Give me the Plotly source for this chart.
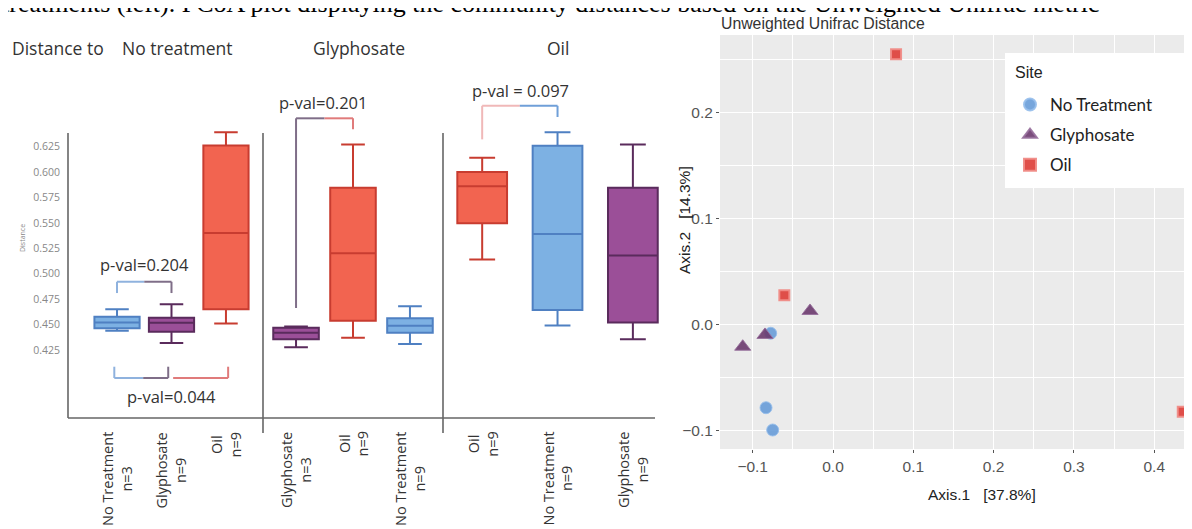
import plotly.graph_objects as go

OFF = 8            # page offset of the plot inside the browser window
W, H = 1192, 529
def px(x):
    return (x - OFF) / W
def py(y):
    return 1 - (y - OFF) / H

# ---------------- data ----------------
caption = "treatments (left). PCoA plot displaying the community distances based on the Unweighted Unifrac metric"
header_groups = ["No treatment", "Glyphosate", "Oil"]

g1_cats = ["No Treatment", "Glyphosate", "Oil"]
g1_n = [3, 9, 9]
g1_lower = [0.444, 0.432, 0.451]
g1_q1 = [0.4463, 0.443, 0.465]
g1_median = [0.452, 0.4518, 0.540]
g1_q3 = [0.4577, 0.4567, 0.626]
g1_upper = [0.465, 0.470, 0.639]

g2_cats = ["Glyphosate", "Oil", "No Treatment"]
g2_n = [3, 9, 9]
g2_lower = [0.4277, 0.437, 0.431]
g2_q1 = [0.4355, 0.4538, 0.442]
g2_median = [0.442, 0.520, 0.4489]
g2_q3 = [0.447, 0.5845, 0.4561]
g2_upper = [0.448, 0.627, 0.468]

g3_cats = ["Oil", "No Treatment", "Glyphosate"]
g3_n = [9, 9, 9]
g3_lower = [0.514, 0.449, 0.4355]
g3_q1 = [0.5495, 0.4643, 0.452]
g3_median = [0.586, 0.539, 0.518]
g3_q3 = [0.600, 0.6258, 0.5845]
g3_upper = [0.614, 0.639, 0.627]

ytick_vals = [0.425, 0.450, 0.475, 0.500, 0.525, 0.550, 0.575, 0.600, 0.625]

pval_labels = ["p-val=0.204", "p-val=0.044", "p-val=0.201", "p-val = 0.097"]

sites = ["No Treatment", "Glyphosate", "Oil"]
nt_ax1 = [-0.0776, -0.0834, -0.0751]
nt_ax2 = [-0.0082, -0.0784, -0.0994]
gly_ax1 = [-0.0286, -0.0847, -0.1124]
gly_ax2 = [0.0128, -0.0098, -0.0209]
oil_ax1 = [0.0785, -0.0606, 0.4355]
oil_ax2 = [0.2547, 0.0276, -0.0821]

# ---------------- styles ----------------
fill = {"No Treatment": "#7db1e3", "Glyphosate": "#9b4f98", "Oil": "#f26450"}
edge = {"No Treatment": "#4f80c2", "Glyphosate": "#5a2b5c", "Oil": "#c83c30"}
LFONT = "Open Sans"
RFONT = "Liberation Sans"

fig = go.Figure()

groups = [
    ("x", g1_cats, g1_n, g1_lower, g1_q1, g1_median, g1_q3, g1_upper, 0.83),
    ("x2", g2_cats, g2_n, g2_lower, g2_q1, g2_median, g2_q3, g2_upper, 0.80),
    ("x3", g3_cats, g3_n, g3_lower, g3_q1, g3_median, g3_q3, g3_upper, 0.66),
]

annotations = []
shapes = []

for ax, cats, ns, lo, q1, med, q3, up, bw in groups:
    for j, c in enumerate(cats):
        fig.add_trace(go.Box(
            x=[c], lowerfence=[lo[j]], q1=[q1[j]], median=[med[j]],
            q3=[q3[j]], upperfence=[up[j]],
            xaxis=ax, yaxis="y", width=bw, whiskerwidth=0.52,
            fillcolor=fill[c], line=dict(color=edge[c], width=2),
            boxpoints=False, showlegend=False, hoverinfo="skip",
        ))
        annotations.append(dict(
            text=f"{c}<br>n={ns[j]}", xref=ax, x=j, yref="paper", y=py(430),
            xanchor="center", yanchor="top", textangle=-90, align="center",
            showarrow=False, font=dict(family=LFONT, size=14.5, color="#333"),
        ))

# headers
annotations.append(dict(text="Distance to", xref="paper", x=px(10), yref="paper", y=py(48),
                        xanchor="left", yanchor="middle", showarrow=False,
                        font=dict(family=LFONT, size=17.5, color="#333")))
for ax, name, dx in zip(["x", "x2", "x3"], header_groups, [0.1, 0.1, 0.0]):
    annotations.append(dict(text=name, xref=ax, x=1 + dx, yref="paper", y=py(48),
                            xanchor="center", yanchor="middle", showarrow=False,
                            font=dict(family=LFONT, size=17.5, color="#333")))

# y axis title of box panel
annotations.append(dict(text="Distance", xref="paper", x=px(23), yref="paper", y=py(238),
                        xanchor="center", yanchor="middle", textangle=-90, showarrow=False,
                        font=dict(family=LFONT, size=7, color="#888")))

# structural lines of the box panel
LC = "#666"
shapes.append(dict(type="line", xref="x domain", x0=0, x1=0, yref="paper", y0=py(133), y1=py(418),
                   line=dict(color=LC, width=1.6)))
shapes.append(dict(type="line", xref="paper", x0=px(68), x1=px(655), yref="paper", y0=py(418), y1=py(418),
                   line=dict(color=LC, width=1.6)))
for ax in ["x2 domain", "x3 domain"]:
    shapes.append(dict(type="line", xref=ax, x0=0, x1=0, yref="paper", y0=py(133), y1=py(433),
                       line=dict(color=LC, width=1.6)))

def seg(xref, x0, y0, x1, y1, color):
    shapes.append(dict(type="line", xref=xref, yref="y", x0=x0, y0=y0, x1=x1, y1=y1,
                       line=dict(color=color, width=2)))

BL, PU, RD, PK = "#8fb2de", "#7f6e88", "#e07b7b", "#f0b8b8"
# group 1 top bracket
seg("x", 0, 0.481, 0, 0.4921, BL); seg("x", 0, 0.4921, 0.5, 0.4921, BL)
seg("x", 0.5, 0.4921, 1.0, 0.4921, PU); seg("x", 1.0, 0.4921, 1.0, 0.481, PU)
# group 1 bottom bracket
seg("x", -0.05, 0.4086, -0.05, 0.3975, BL); seg("x", -0.05, 0.3975, 0.48, 0.3975, BL)
seg("x", 0.48, 0.3975, 0.94, 0.3975, PU); seg("x", 0.94, 0.3975, 0.94, 0.4086, PU)
seg("x", 1.03, 0.3975, 2.04, 0.3975, RD); seg("x", 2.04, 0.3975, 2.04, 0.4086, RD)
# group 2 bracket
seg("x2", 0, 0.4663, 0, 0.6527, PU); seg("x2", 0, 0.6527, 0.5, 0.6527, PU)
seg("x2", 0.5, 0.6527, 1.0, 0.6527, RD); seg("x2", 1.0, 0.6527, 1.0, 0.642, RD)
# group 3 bracket
seg("x3", 0, 0.632, 0, 0.665, PK); seg("x3", 0, 0.665, 0.5, 0.665, PK)
seg("x3", 0.5, 0.665, 1.0, 0.665, "#6f9fd8"); seg("x3", 1.0, 0.665, 1.0, 0.654, "#6f9fd8")

for ax, x, y, t in [("x", 0.51, 0.5095, pval_labels[0]), ("x", 1.0, 0.379, pval_labels[1]),
                    ("x2", 0.49, 0.6678, pval_labels[2]), ("x3", 0.51, 0.6805, pval_labels[3])]:
    annotations.append(dict(text=t, xref=ax, x=x, yref="y", y=y, xanchor="center", yanchor="middle",
                            showarrow=False, font=dict(family=LFONT, size=16.5, color="#333")))

# ---------------- PCoA scatter ----------------
pad = "\u00a0" * 9
fig.add_trace(go.Scatter(x=nt_ax1, y=nt_ax2, mode="markers", name=sites[0] + pad, legendgroup="a",
                         xaxis="x4", yaxis="y4",
                         marker=dict(symbol="circle", size=12, color="rgba(104,156,216,0.9)",
                                     line=dict(color="rgba(150,190,235,0.9)", width=1))))
fig.add_trace(go.Scatter(x=gly_ax1, y=gly_ax2, mode="markers", name=sites[1], legendgroup="b",
                         xaxis="x4", yaxis="y4",
                         marker=dict(symbol="triangle-up", size=14, color="rgba(108,58,110,0.9)",
                                     line=dict(color="rgba(150,110,155,0.9)", width=1))))
fig.add_trace(go.Scatter(x=oil_ax1, y=oil_ax2, mode="markers", name=sites[2], legendgroup="c",
                         xaxis="x4", yaxis="y4", cliponaxis=False,
                         marker=dict(symbol="square", size=10, color="rgba(222,70,64,0.95)",
                                     line=dict(color="rgba(240,140,135,0.95)", width=2))))

shapes.append(dict(type="rect", xref="x4 domain", yref="y4 domain", x0=0, x1=1, y0=0, y1=1,
                   fillcolor="#ebebeb", line=dict(width=0), layer="below"))
# white legend box
shapes.append(dict(type="rect", xref="paper", yref="paper", x0=px(1005), x1=1.0,
                   y0=py(188), y1=py(53), fillcolor="white", line=dict(width=0), layer="above"))
annotations.append(dict(text="Site", xref="paper", x=px(1013), yref="paper", y=py(73),
                        xanchor="left", yanchor="middle", showarrow=False,
                        font=dict(family=RFONT, size=16, color="#222")))

annotations.append(dict(text="Unweighted Unifrac Distance", xref="paper", x=px(719), yref="paper", y=py(23),
                        xanchor="left", yanchor="middle", showarrow=False,
                        font=dict(family=RFONT, size=15.8, color="#333")))
annotations.append(dict(text="Axis.1\u00a0\u00a0\u00a0[37.8%]", xref="paper", x=px(982), yref="paper", y=py(494),
                        xanchor="center", yanchor="middle", showarrow=False,
                        font=dict(family=RFONT, size=15.5, color="#222")))
annotations.append(dict(text="Axis.2\u00a0\u00a0\u00a0[14.3%]", xref="paper", x=px(684), yref="paper", y=py(220),
                        xanchor="center", yanchor="middle", textangle=-90, showarrow=False,
                        font=dict(family=RFONT, size=15.5, color="#222")))

# caption cut at the top
annotations.append(dict(text=caption, xref="paper", x=px(0), yref="paper", y=py(20),
                        xanchor="left", yanchor="bottom", showarrow=False,
                        font=dict(family="Liberation Serif", size=26, color="#000")))

hidden_x = dict(showline=False, showticklabels=False, ticks="", showgrid=False, zeroline=False,
                type="category", anchor="y")
tickfont_r = dict(family=RFONT, size=15.5, color="#555")

fig.update_layout(
    width=W, height=H, margin=dict(l=0, r=0, t=0, b=0),
    paper_bgcolor="white", plot_bgcolor="white",
    xaxis=dict(domain=[px(68), px(263)], range=[-0.9, 2.68], categoryorder="array",
               categoryarray=g1_cats, **hidden_x),
    xaxis2=dict(domain=[px(263), px(443)], range=[-0.58, 2.58], categoryorder="array",
                categoryarray=g2_cats, **hidden_x),
    xaxis3=dict(domain=[px(443), px(660)], range=[-0.52, 2.36], categoryorder="array",
                categoryarray=g3_cats, **hidden_x),
    yaxis=dict(domain=[py(418), py(60)], range=[0.3582, 0.710], anchor="x",
               tickvals=ytick_vals, tickformat=".3f", showgrid=False, zeroline=False,
               showline=False, ticks="", ticklabelstandoff=7,
               tickfont=dict(family=LFONT, size=10.5, color="#888")),
    xaxis4=dict(domain=[px(720), px(1192)], anchor="y4", range=[-0.1407, 0.447],
                tick0=0, dtick=0.1, tickformat=".1f", showgrid=True, gridcolor="white", gridwidth=1.3,
                minor=dict(tick0=0, dtick=0.05, showgrid=True, gridcolor="white", gridwidth=0.7),
                zeroline=False, showline=False, ticks="outside", ticklen=3, tickcolor="#555",
                tickfont=tickfont_r),
    yaxis4=dict(domain=[py(449), py(35)], anchor="x4", range=[-0.1173, 0.2729],
                tick0=0, dtick=0.1, tickformat=".1f", showgrid=True, gridcolor="white", gridwidth=1.3,
                minor=dict(tick0=0, dtick=0.05, showgrid=True, gridcolor="white", gridwidth=0.7),
                zeroline=False, showline=False, ticks="outside", ticklen=3, tickcolor="#555",
                tickfont=tickfont_r),
    legend=dict(x=px(1010), y=py(87), xanchor="left", yanchor="top", bgcolor="rgba(0,0,0,0)",
                borderwidth=0, tracegroupgap=5, itemsizing="constant",
                font=dict(family="Lato", size=17, color="#222")),
    showlegend=True,
    annotations=annotations,
    shapes=shapes,
)

fig.write_html("out.html")
